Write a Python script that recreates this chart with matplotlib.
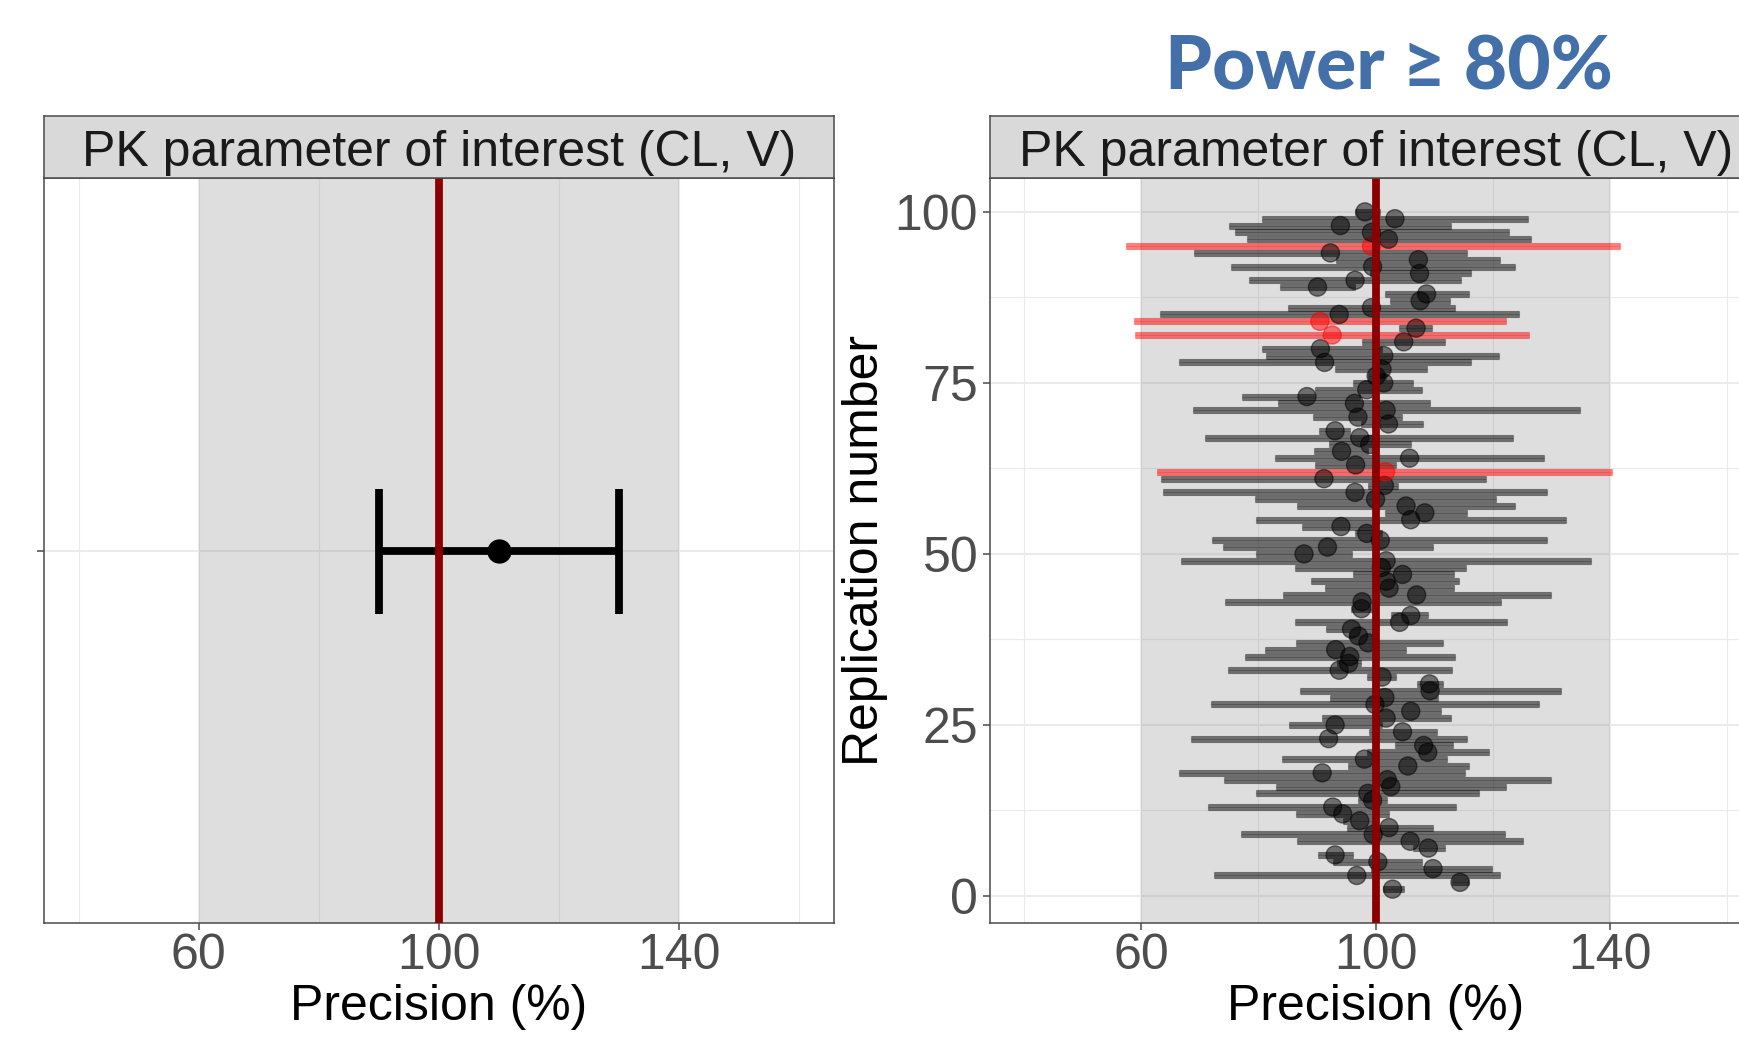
import matplotlib
matplotlib.use("Agg")
import matplotlib.pyplot as plt
import numpy as np

# ---------------- data ----------------
left_est = [110.0]
left_lo = [90.0]
left_hi = [130.0]

replication = list(range(1, 101))
estimate = [102.9, 114.4, 96.8, 109.8, 100.4, 93.1, 109.0, 105.9, 99.6, 102.3,
            97.3, 94.4, 92.7, 99.5, 98.7, 102.6, 102.0, 90.9, 105.5, 98.1,
            108.9, 108.2, 92.0, 104.6, 93.1, 101.8, 106.0, 99.9, 101.6, 109.3,
            109.2, 101.1, 93.8, 95.4, 95.6, 93.2, 98.7, 97.1, 95.9, 104.1,
            106.0, 97.6, 97.7, 107.0, 102.3, 101.8, 104.6, 101.0, 101.8, 87.8,
            91.8, 100.8, 98.5, 94.1, 106.0, 108.4, 105.2, 100.0, 96.5, 101.5,
            91.2, 101.7, 96.6, 105.8, 94.2, 99.0, 97.3, 93.1, 102.2, 97.0,
            101.8, 96.4, 88.3, 98.5, 101.4, 100.1, 101.1, 91.3, 101.4, 90.6,
            104.8, 92.6, 106.9, 90.5, 93.8, 99.3, 107.6, 108.7, 90.1, 96.5,
            107.5, 99.5, 107.3, 92.3, 99.3, 102.2, 99.3, 94.0, 103.3, 98.2]
lower = [101.3, 113.0, 72.4, 99.3, 92.7, 90.1, 106.3, 86.6, 77.0, 95.1,
         94.5, 86.5, 71.5, 97.0, 79.6, 83.0, 74.1, 66.5, 95.3, 84.1,
         98.5, 103.4, 68.6, 98.8, 85.2, 90.9, 100.8, 72.0, 92.3, 87.1,
         107.1, 98.5, 74.8, 93.5, 77.7, 81.2, 86.5, 95.5, 91.5, 86.2,
         102.6, 95.8, 74.3, 84.3, 91.3, 89.0, 96.1, 86.2, 66.8, 79.6,
         74.0, 72.1, 96.5, 87.5, 79.6, 101.6, 86.6, 79.5, 63.7, 98.7,
         63.4, 62.7, 89.7, 82.9, 89.5, 92.0, 70.9, 90.4, 97.5, 89.3,
         68.8, 83.4, 77.3, 89.6, 96.1, 98.7, 93.0, 66.5, 81.3, 80.7,
         97.7, 59.0, 104.0, 58.8, 63.3, 85.1, 102.4, 101.6, 83.7, 78.5,
         99.0, 75.4, 93.2, 69.1, 57.4, 78.1, 76.0, 75.0, 80.7, 96.5]
upper = [104.9, 115.9, 121.2, 119.8, 107.9, 96.1, 111.8, 125.1, 122.1, 109.8,
         100.5, 102.3, 113.8, 102.0, 117.7, 122.3, 129.9, 115.3, 116.0, 112.1,
         119.4, 113.2, 115.6, 110.4, 101.1, 112.9, 111.2, 127.8, 110.7, 131.6,
         111.5, 103.5, 113.1, 97.5, 113.6, 105.2, 111.5, 99.5, 100.5, 122.4,
         108.9, 99.6, 121.4, 129.9, 113.3, 114.2, 113.3, 115.4, 136.7, 96.0,
         109.8, 129.3, 101.1, 100.2, 132.4, 115.6, 123.8, 120.6, 129.3, 103.8,
         118.9, 140.3, 103.5, 128.7, 98.7, 106.0, 123.5, 95.6, 108.1, 104.5,
         134.9, 109.3, 97.4, 107.9, 106.3, 101.7, 108.7, 116.3, 121.0, 101.1,
         111.8, 126.2, 109.6, 122.3, 124.4, 113.5, 112.7, 115.9, 96.5, 114.5,
         116.2, 123.8, 121.3, 115.6, 141.7, 126.5, 122.7, 112.9, 126.0, 100.8]

band_lo, band_hi = 60, 140
reference = 100
x_ticks = [60, 100, 140]
x_minor = [40, 80, 120, 160]
y_ticks = [0, 25, 50, 75, 100]
y_minor = [12.5, 37.5, 62.5, 87.5]
strip_label = "PK parameter of interest (CL, V)"
x_title = "Precision (%)"
y_title = "Replication number"
title = "Power \u2265 80%"

# ---------------- figure ----------------
W, H = 1739, 1037
fig = plt.figure(figsize=(W / 100, H / 100), dpi=100)
plt.rcParams['font.family'] = ['Liberation Sans', 'DejaVu Sans']

def fx(px):
    return px / W

def fy(py):
    return 1 - py / H

XLIM = (34.25, 165.9)
FS = 36
GREY30 = '#4D4D4D'
BORDER = '#4a4a4a'

def style_axes(ax):
    ax.set_xlim(*XLIM)
    ax.set_facecolor('white')
    for s in ax.spines.values():
        s.set_color(BORDER)
        s.set_linewidth(1.1)
    ax.set_xticks(x_ticks)
    ax.set_xticks(x_minor, minor=True)
    ax.tick_params(axis='both', which='major', length=5, width=1.1,
                   color=BORDER, labelsize=FS, labelcolor=GREY30)
    ax.tick_params(axis='x', which='major', pad=2.5)
    ax.tick_params(axis='both', which='minor', length=0)
    ax.grid(which='major', color='#EBEBEB', lw=1.5, zorder=0)
    ax.grid(which='minor', color='#EBEBEB', lw=0.8, zorder=0)
    ax.set_axisbelow(True)
    ax.axvspan(band_lo, band_hi, color='#808080', alpha=0.26, lw=0, zorder=1)
    ax.set_xlabel(x_title, fontsize=FS, color='black', labelpad=3)

def add_strip(x0, x1):
    sax = fig.add_axes([fx(x0), fy(178), fx(x1 - x0), (178 - 116) / H])
    sax.set_facecolor('#D9D9D9')
    sax.set_xticks([])
    sax.set_yticks([])
    for s in sax.spines.values():
        s.set_color(BORDER)
        s.set_linewidth(1.1)
    sax.text(0.5, 0.2, strip_label, transform=sax.transAxes, ha='center',
             va='baseline', fontsize=FS, color='#1A1A1A')
    return sax

# ---- left panel ----
axL = fig.add_axes([fx(44), fy(923), fx(834 - 44), (923 - 178) / H])
style_axes(axL)
axL.set_ylim(0.4, 1.6)
axL.set_yticks([1])
axL.set_yticklabels([''])
axL.errorbar(left_est, [1], xerr=[np.subtract(left_est, left_lo), np.subtract(left_hi, left_est)],
             fmt='o', color='black', ms=16.5, elinewidth=5.6, capsize=45, capthick=5.6, zorder=3)
axL.axvline(reference, color='#8B0000', lw=5.6, zorder=4)
add_strip(44, 834)

# ---- right panel ----
axR = fig.add_axes([fx(990), fy(923), fx(1762 - 990), (923 - 178) / H])
style_axes(axR)
axR.set_ylim(-3.95, 104.95)
axR.set_yticks(y_ticks)
axR.set_yticks(y_minor, minor=True)
axR.tick_params(axis='y', which='major', pad=3.5)
axR.set_ylabel(y_title, fontsize=FS, color='black', labelpad=5)

rep = np.array(replication)
est = np.array(estimate)
lo = np.array(lower)
hi = np.array(upper)
fail = (lo < band_lo) | (hi > band_hi)
cols = np.where(fail, '#FF0000', '#000000')

axR.hlines(rep, lo, hi, colors=cols, lw=5.1, alpha=0.5, zorder=2)
for r, l, h, c in zip(rep, lo, hi, cols):
    axR.errorbar([(l + h) / 2], [r], xerr=[[(h - l) / 2]], fmt='none', ecolor=c,
                 elinewidth=0.6, capsize=2.2, capthick=0.8, alpha=0.25, zorder=2.5)
axR.scatter(est, rep, s=170, c=cols, alpha=0.5, edgecolors=cols, linewidths=1.0, zorder=3)
axR.axvline(reference, color='#8B0000', lw=5.6, zorder=4)
add_strip(990, 1762)

# ---- title ----
fig.text(fx(1389), fy(89), title, ha='center', va='baseline', fontsize=54,
         fontweight='black', color='#4470AA', family=['Lato', 'DejaVu Sans'])

fig.savefig('out.png', dpi=100)
